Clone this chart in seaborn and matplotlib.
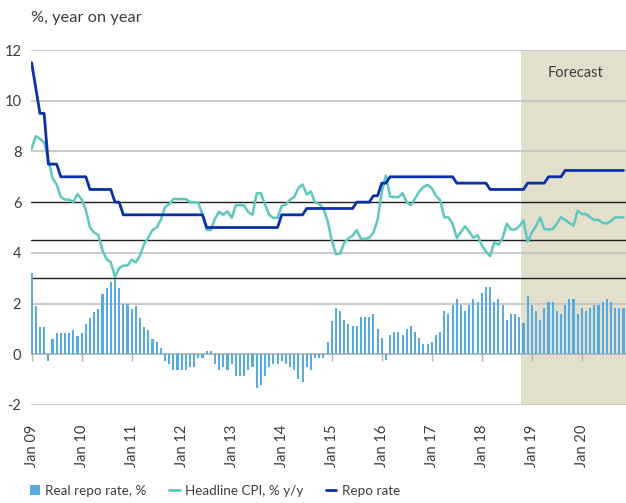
import matplotlib
matplotlib.use("Agg")
import matplotlib.pyplot as plt
from matplotlib.patches import Patch
from matplotlib.lines import Line2D
import pandas as pd
import seaborn as sns

# monthly data, Jan 2009 .. Nov 2020
real_repo = [
    3.2, 1.9, 1.07, 1.07, -0.26, 0.6, 0.83, 0.83, 0.83, 0.83, 0.95, 0.71,
    0.83, 1.18, 1.42, 1.66, 1.78, 2.37, 2.6, 2.84, 2.96, 2.6, 2.0, 2.0,
    1.78, 1.9, 1.42, 1.07, 0.95, 0.6, 0.47, 0.24, -0.26, -0.38, -0.62, -0.62,
    -0.62, -0.62, -0.5, -0.5, -0.14, -0.14, 0.12, 0.12, -0.38, -0.62, -0.5, -0.62,
    -0.38, -0.86, -0.86, -0.86, -0.62, -0.5, -1.32, -1.2, -0.86, -0.5, -0.38, -0.38,
    -0.26, -0.38, -0.5, -0.62, -0.97, -1.09, -0.5, -0.62, -0.14, -0.14, -0.14, 0.47,
    1.3, 1.83, 1.7, 1.35, 1.21, 1.1, 1.1, 1.47, 1.47, 1.47, 1.59, 0.99,
    0.63, -0.24, 0.75, 0.87, 0.87, 0.75, 0.99, 1.1, 0.87, 0.63, 0.39, 0.39,
    0.5, 0.75, 0.87, 1.7, 1.59, 1.95, 2.19, 1.95, 1.7, 1.95, 2.19, 2.07,
    2.43, 2.67, 2.67, 2.07, 2.19, 1.95, 1.35, 1.59, 1.59, 1.47, 1.23, 2.31,
    1.95, 1.7, 1.35, 1.83, 2.07, 2.07, 1.7, 1.59, 1.95, 2.19, 2.19, 1.59,
    1.83, 1.7, 1.83, 1.95, 1.95, 2.07, 2.19, 2.07, 1.83, 1.83, 1.83,
]
cpi = [
    8.1, 8.6, 8.5, 8.35, 7.7, 6.95, 6.7, 6.2, 6.1, 6.1, 6.0, 6.32,
    6.1, 5.7, 5.0, 4.8, 4.7, 4.1, 3.75, 3.62, 3.05, 3.4, 3.5, 3.5,
    3.73, 3.62, 3.9, 4.35, 4.6, 4.9, 5.0, 5.3, 5.8, 5.92, 6.12, 6.12,
    6.12, 6.12, 6.0, 6.0, 5.96, 5.5, 4.9, 4.9, 5.35, 5.62, 5.5, 5.64,
    5.38, 5.88, 5.88, 5.87, 5.6, 5.5, 6.35, 6.35, 5.9, 5.5, 5.38, 5.38,
    5.85, 5.9, 6.1, 6.2, 6.55, 6.7, 6.3, 6.42, 5.98, 5.93, 5.75, 5.27,
    4.5, 3.95, 3.97, 4.4, 4.57, 4.68, 4.9, 4.55, 4.55, 4.6, 4.8, 5.3,
    6.4, 7.05, 6.22, 6.2, 6.2, 6.35, 6.0, 5.88, 6.15, 6.42, 6.6, 6.68,
    6.55, 6.25, 6.08, 5.4, 5.4, 5.15, 4.58, 4.82, 5.05, 4.82, 4.6, 4.7,
    4.3, 4.05, 3.87, 4.42, 4.32, 4.58, 5.15, 4.92, 4.92, 5.05, 5.28, 4.44,
    4.8, 5.05, 5.4, 4.93, 4.93, 4.93, 5.15, 5.4, 5.3, 5.18, 5.07, 5.66,
    5.53, 5.53, 5.4, 5.3, 5.3, 5.18, 5.16, 5.25, 5.4, 5.4, 5.4,
]
repo = (
    [11.5, 10.5, 9.5, 9.5] + [7.5] * 3 + [7.0] * 7 + [6.5] * 6 + [6.0] * 2
    + [5.5] * 20 + [5.0] * 18 + [5.5] * 6 + [5.75] * 12 + [6.0] * 4
    + [6.25] * 2 + [6.75] * 2 + [7.0] * 16 + [6.75] * 8 + [6.5] * 9
    + [6.75] * 5 + [7.0] * 4 + [7.25] * 15
)
tick_labels = ["Jan 09", "Jan 10", "Jan 11", "Jan 12", "Jan 13", "Jan 14",
               "Jan 15", "Jan 16", "Jan 17", "Jan 18", "Jan 19", "Jan 20"]
target_band = [3, 4.5, 6]
forecast_start = 117.5  # between Oct and Nov 2018

df = pd.DataFrame({"month": range(len(real_repo)), "real": real_repo,
                   "cpi": cpi, "repo": repo})

sns.set_style("white")
plt.rcParams["font.family"] = ["Lato", "DejaVu Sans"]
text_col = "#3d3d3d"
bar_col = "#56ace0"
cpi_col = "#5ec8bf"
repo_col = "#0b2fa6"

fig = plt.figure(figsize=(6.26, 5.03), dpi=100)
ax = fig.add_axes([31 / 626, 1 - 405 / 503, 1 - 31 / 626, 355 / 503])

ax.axvspan(forecast_start, 143, color="#e3dfcd", lw=0, zorder=0)
for y in [2, 4, 8, 10, 12]:
    ax.axhline(y, color="#c6c6c6", lw=1.3, zorder=1)
ax.axhline(-2, color="#c6c6c6", lw=1.3, zorder=1)
ax.axhline(0, color="#b4b4b4", lw=1.3, zorder=1)
for y in target_band:
    ax.axhline(y, color="#202020", lw=1.0, zorder=2)

sns.barplot(data=df, x="month", y="real", color=bar_col, width=0.5,
            native_scale=True, saturation=1, edgecolor="none", linewidth=0,
            ax=ax, zorder=3)
sns.lineplot(data=df, x="month", y="cpi", color=cpi_col, lw=1.8, ax=ax, zorder=4)
sns.lineplot(data=df, x="month", y="repo", color=repo_col, lw=2.0, ax=ax, zorder=5)

ax.set_xlim(-0.15, 142.6)
ax.set_ylim(-2, 12)
ax.set_yticks(range(-2, 13, 2))
ax.set_yticklabels([str(v) for v in range(-2, 13, 2)])
ax.set_xticks(range(0, 143, 12))
ax.set_xticklabels(tick_labels, rotation=90, va="top", ha="center")
ax.set_xlabel("")
ax.set_ylabel("")
for s in ax.spines.values():
    s.set_visible(False)
ax.tick_params(axis="y", length=0, pad=7, labelsize=10.5, labelcolor=text_col)
ax.tick_params(axis="x", length=5, width=1, color="#c6c6c6", direction="out",
               pad=9, labelsize=10.5, labelcolor=text_col)

# small ticks hanging under the zero line
zero_ax = ax.secondary_xaxis(2 / 14)
zero_ax.set_xticks(range(0, 143, 12))
zero_ax.tick_params(length=5, width=1, color="#b4b4b4", direction="out",
                    labelbottom=False, labeltop=False)
zero_ax.spines["bottom"].set_visible(False)
zero_ax.spines["top"].set_visible(False)

ax.text(130.5, 11.1, "Forecast", ha="center", va="center", fontsize=10.5,
        color=text_col)
fig.text(31 / 626, 1 - 18 / 503, "%, year on year", ha="left", va="center",
         fontsize=11.8, color=text_col)

handles = [
    Patch(facecolor=bar_col, edgecolor="none"),
    Line2D([], [], color=cpi_col, lw=2),
    Line2D([], [], color=repo_col, lw=2),
]
labels = ["Real repo rate, %", "Headline CPI, % y/y", "Repo rate"]
fig.legend(handles, labels, loc="lower left", bbox_to_anchor=(0.028, -0.012),
           ncol=3, frameon=False, fontsize=9.7, handlelength=0.75,
           handleheight=0.75, handletextpad=0.4, columnspacing=1.7,
           labelcolor=text_col)

fig.savefig("out.png", dpi=100)
